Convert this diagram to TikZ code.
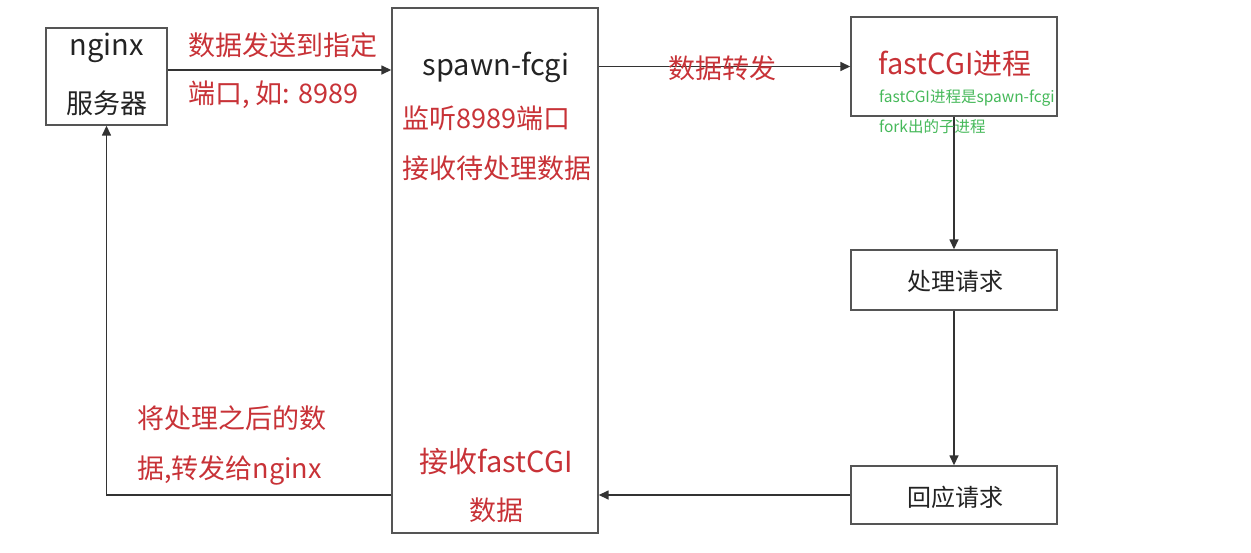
\documentclass[tikz,border=0pt]{standalone}
\usepackage{fontspec}
\setmainfont{Noto Sans CJK SC}
\usetikzlibrary{arrows.meta}
\definecolor{tred}{RGB}{200,50,55}
\definecolor{tgreen}{RGB}{70,185,90}
\definecolor{boxline}{RGB}{85,85,85}
\definecolor{tblack}{RGB}{35,35,35}
\begin{document}
\begin{tikzpicture}[x=1pt,y=-1pt,
  box/.style={draw=boxline, line width=1.4pt, rectangle, inner sep=0pt, fill=white},
  conn/.style={draw=black!80, line width=1.5pt, -{Triangle[length=10pt,width=9pt]}},
  bigtxt/.style={font=\fontsize{27}{30}\selectfont, text=tblack, inner sep=0pt},
  redtxt/.style={font=\fontsize{27}{30}\selectfont, text=tred, inner sep=0pt},
  latintxt/.style={font=\fontsize{29}{32}\selectfont, inner sep=0pt},
  smalltxt/.style={font=\fontsize{24}{26}\selectfont, text=tblack, inner sep=0pt},
  greentxt/.style={font=\fontsize{15.5}{18}\selectfont, text=tgreen, inner sep=0pt}]
\useasboundingbox[fill=white] (0,0) rectangle (1251,552);
% boxes
\node[box, minimum width=121pt, minimum height=97pt] (nginx) at (106.5,76.5) {};
\node[box, minimum width=206pt, minimum height=525pt] (spawn) at (495,270.5) {};
\node[box, minimum width=206pt, minimum height=99pt] (fcgi) at (954,66.5) {};
\node[box, minimum width=206pt, minimum height=60pt] (proc) at (954,280) {};
\node[box, minimum width=206pt, minimum height=58pt] (resp) at (954,495) {};
% connectors
\coordinate (a1) at (0,70);
\coordinate (a2) at (0,495);
\draw[conn] (nginx.east |- a1) -- (spawn.west |- a1);
\draw[conn] (spawn.east |- fcgi.west) -- (fcgi.west);
\draw[conn] (fcgi.south) -- (proc.north);
\draw[conn] (proc.south) -- (resp.north);
\draw[conn] (resp.west) -- (spawn.east |- resp.west);
\draw[conn] (spawn.west |- a2) -| (nginx.south);
% texts
\node[latintxt, text=tblack] (t1) at (107,48) {nginx};
\node[bigtxt] (t2) at (107,103) {服务器};
\node[redtxt, anchor=west] (t3) at (188,45) {数据发送到指定};
\node[redtxt, anchor=west] (t4) at (188,95) {端口, 如: 8989};
\node[latintxt, text=tblack] (t5) at (496,67) {spawn-fcgi};
\node[redtxt, anchor=west] (t6) at (402,118) {监听8989端口};
\node[redtxt, anchor=west] (t7) at (402,168) {接收待处理数据};
\node[redtxt] (t8) at (722,68) {数据转发};
\node[latintxt, text=tred] (t9) at (955,64) {fastCGI进程};
\node[greentxt, anchor=west] (t10) at (879,98) {fastCGI进程是spawn-fcgi};
\node[greentxt, anchor=west] (t11) at (879,127) {fork出的子进程};
\node[smalltxt] (t12) at (955,281) {处理请求};
\node[smalltxt] (t13) at (955,497) {回应请求};
\node[redtxt, anchor=west] (t14) at (137,418) {将处理之后的数};
\node[redtxt, anchor=west] (t15) at (137,470) {据,转发给nginx};
\node[latintxt, text=tred] (t16) at (496,462) {接收fastCGI};
\node[redtxt] (t17) at (496,510) {数据};
\end{tikzpicture}
\end{document}
